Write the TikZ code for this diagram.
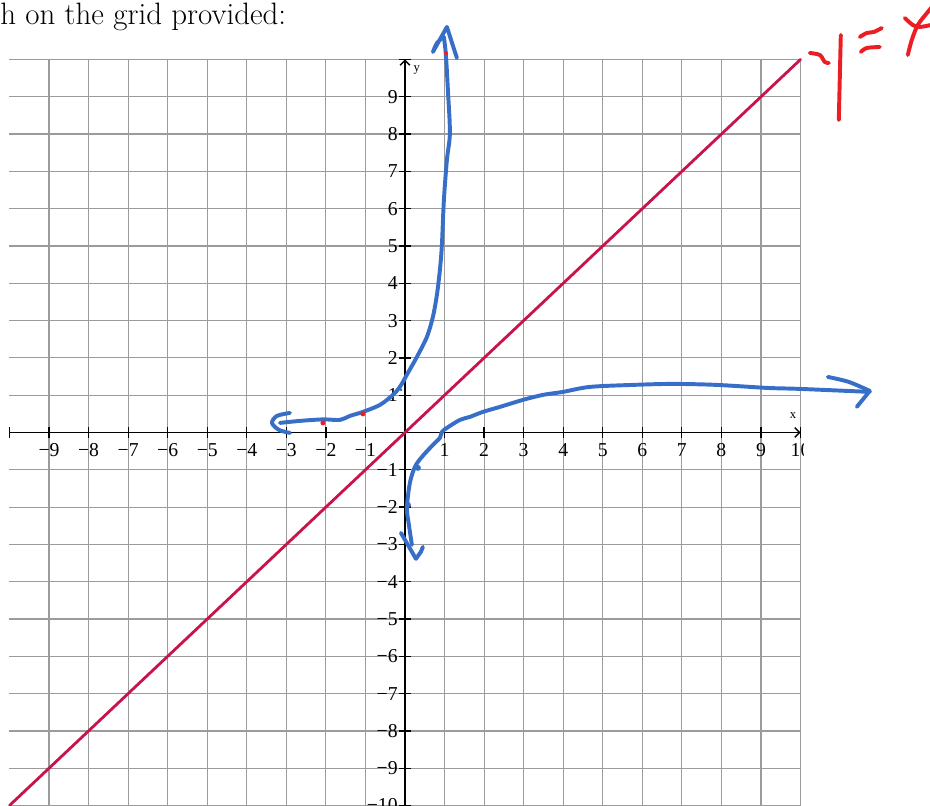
\documentclass[tikz,border=0pt]{standalone}
\usepackage{fontspec}
\usetikzlibrary{arrows.meta}
\newfontfamily\numfont{Liberation Serif}
\definecolor{rejillagris}{RGB}{155,155,155}
\definecolor{rectacarmin}{RGB}{200,20,75}
\definecolor{tintaazul}{RGB}{55,110,200}
\definecolor{tintaroja}{RGB}{235,30,35}
\tikzset{
  rejilla/.style={draw=rejillagris, line width=0.85pt},
  eje/.style={draw=black, line width=0.9pt},
  marca/.style={inner sep=0pt, font=\numfont\fontsize{14}{16}\selectfont},
  recta/.style={draw=rectacarmin, line width=2pt, line cap=round},
  azul/.style={draw=tintaazul, line width=2.8pt, line cap=round, line join=round},
  rojo/.style={draw=tintaroja, line width=2.8pt, line cap=round, line join=round},
}

\begin{document}
\begin{tikzpicture}[x=0.98875cm, y=0.9325cm, >={Straight Barb[length=3.5pt,width=7pt]}]
  \useasboundingbox (-10.24,-10.013) rectangle (13.274,11.595);
  % cuadricula
  \foreach \j in {-10,...,10} \draw[rejilla] (-10,\j) -- (10,\j);
  \foreach \i in {-9,...,10} \draw[rejilla] (\i,-10) -- (\i,10);
  % ejes
  \draw[eje,->] (-10,0) -- (10,0);
  \draw[eje,->] (0,-10) -- (0,10);
  \foreach \i in {-10,...,10} \draw[eje] (\i,-0.16) -- (\i,0.16);
  \foreach \j in {-10,...,10} \draw[eje] (-0.15,\j) -- (0.15,\j);
  \node[marca, font=\numfont\fontsize{9}{10}\selectfont] (ejex) at (9.81,0.44) {x};
  \node[marca, font=\numfont\fontsize{9}{10}\selectfont] (ejey) at (0.30,9.72) {y};
  % numeros
  \begin{scope}
    \clip (-10.3,-10.2) rectangle (10.07,11);
    \foreach \i in {1,...,10} \node[marca, anchor=north] (xp\i) at (\i,-0.28) {\i};
    \foreach \i in {1,...,9} \node[marca, anchor=north] (xn\i) at (-\i,-0.28) {−\i};
    \foreach \j in {1,...,9} \node[marca, anchor=east] (yp\j) at (-0.18,\j) {\j};
    \foreach \j in {1,...,10} \node[marca, anchor=east] (yn\j) at (-0.18,-\j) {−\j};
  \end{scope}
  % recta y = x
  \draw[recta] (-10,-10) -- (10,10);
  % trazos a mano (pixeles)
  \begin{scope}[shift={(-10.24,11.595)}, x=0.025cm, y=-0.025cm]
    \node[inner sep=0pt, anchor=base west, font=\fontsize{22}{26}\selectfont] (titulo) at (0,25) {h on the grid provided:};
    % rama superior
    \draw[azul] plot[smooth] coordinates {(290,413) (277,416) (272,423) (279,430) (290,433)};
    \draw[azul] plot[smooth] coordinates {(280,423) (300,421) (323,419.5) (340,420) (350,416) (363,412)
      (380,405) (393,395) (400,387) (408,373) (417,357) (427,337) (433,317) (437,295) (440,270)
      (442,245) (444,200) (447,160) (450,133) (448,90) (446,55) (444,37)};
    \draw[azul] (444,37) .. controls (437,42) .. (433,52) -- (447,27) -- (457,58);
    % rama inferior
    \draw[azul] plot[smooth] coordinates {(870,392) (800,389) (767,388) (717,385) (673,384) (633,385)
      (590,387) (563,392) (543,395) (523,400) (500,407) (483,412) (470,417) (460,420) (447,428)
      (442,432) (440,438) (433,445) (422,457) (415,467) (410,483) (407,508) (409,525) (412,545)};
    \draw[azul] plot[smooth] coordinates {(828,377) (849,382) (870,391)};
    \draw[azul] (870,391) -- (857,407);
    \draw[azul] plot[smooth] coordinates {(401,533) (408,545) (416,559)};
    \draw[azul] (416,559) -- (421,552) -- (423,547);
    % puntos
    \fill[tintaroja] (323,423) circle (2.5) (363,414) circle (2.5) (446,53) circle (2);
    \fill[tintaazul] (418,468) circle (3) (408,505) circle (3) (401,390) circle (1.5);
    % y = x escrito
    \draw[rojo] plot[smooth] coordinates {(810,53) (820,55) (825,62) (829,63)};
    \draw[rojo] (841,35) -- (839,120);
    \draw[rojo] plot[smooth] coordinates {(860,37) (867,33) (874,32) (882,28)};
    \draw[rojo] plot[smooth] coordinates {(861,52) (867,48) (880,47)};
    \draw[rojo] plot[smooth] coordinates {(905,18) (913,25) (920,27) (931,25)};
    \draw[rojo] plot[smooth] coordinates {(908,55) (912,40) (918,25) (928,12) (933,6)};
  \end{scope}
\end{tikzpicture}
\end{document}
